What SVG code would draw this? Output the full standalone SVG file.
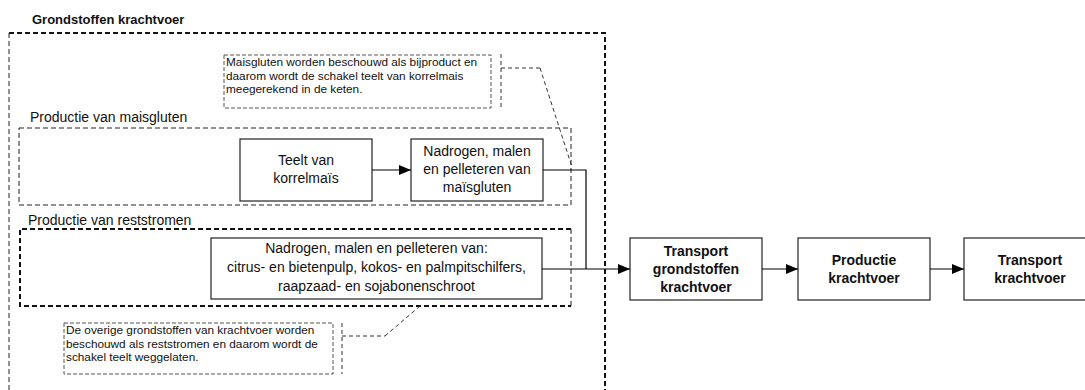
<svg xmlns="http://www.w3.org/2000/svg" width="1085" height="390" viewBox="0 0 1085 390">
<defs>
<marker id="arr" markerUnits="userSpaceOnUse" markerWidth="12" markerHeight="12" viewBox="0 0 12 12" refX="12" refY="6" orient="auto">
<path d="M0,1 L12,6 L0,11 Z" fill="#000"/>
</marker>
<style>
.node{fill:#fff;stroke:#222;stroke-width:1.2}
.t{font-family:"Liberation Sans",Arial,sans-serif;font-size:14px;fill:#111;text-anchor:middle}
.b{font-weight:bold}
.lbl{font-family:"Liberation Sans",Arial,sans-serif;font-size:14px;fill:#111}
.title{font-family:"Liberation Sans",Arial,sans-serif;font-size:13px;font-weight:bold;fill:#111}
.note{font-family:"Liberation Sans",Arial,sans-serif;font-size:11.8px;fill:#111}
.notebox{fill:none;stroke:#555;stroke-width:1;stroke-dasharray:4 2}
.thick{fill:none;stroke:#111;stroke-width:2;stroke-dasharray:5 3}
.thin{fill:none;stroke:#222;stroke-width:1;stroke-dasharray:5 3}
.call{fill:none;stroke:#333;stroke-width:1;stroke-dasharray:4 3}
.conn{fill:none;stroke:#000;stroke-width:1.2}
</style>
</defs>

<g id="container-grondstoffen">
<text class="title" x="32" y="24">Grondstoffen krachtvoer</text>
<path class="thick" d="M9,33 H605 V395"/>
<path class="thin" d="M9,33 V395"/>
</g>

<g id="container-maisgluten">
<text class="lbl" x="30" y="122">Productie van maisgluten</text>
<rect class="thin" x="19" y="128" width="552" height="77"/>
</g>

<g id="container-reststromen">
<text class="lbl" x="28" y="225">Productie van reststromen</text>
<path class="thick" d="M571,229 H20 V306 H571"/>
<path class="thin" d="M571,229 V306"/>
</g>

<g id="note-maisgluten">
<rect class="notebox" x="224" y="55" width="267" height="53"/>
<text class="note" x="226" y="66">Maisgluten worden beschouwd als bijproduct en</text>
<text class="note" x="226" y="79.5">daarom wordt de schakel teelt van korrelmais</text>
<text class="note" x="226" y="93">meegerekend in de keten.</text>
<path class="call" d="M501,54 V108 M501,68 H540"/>
<path class="call" stroke-dasharray="3 2" d="M540,68 L572,167"/>
</g>

<g id="note-reststromen">
<rect class="notebox" x="64" y="323" width="269" height="51"/>
<text class="note" x="66" y="334">De overige grondstoffen van krachtvoer worden</text>
<text class="note" x="66" y="347.5">beschouwd als reststromen en daarom wordt de</text>
<text class="note" x="66" y="361">schakel teelt weggelaten.</text>
<path class="call" d="M342,323 V374 M342,336 H385"/>
<path class="call" stroke-dasharray="3 2" d="M385,336 L420,306"/>
</g>

<g id="node-teelt">
<rect class="node" x="240" y="139" width="132" height="62"/>
<text class="t" x="306" y="165">Teelt van</text>
<text class="t" x="306" y="183">korrelmaïs</text>
</g>

<g id="node-nadrogen-mais">
<rect class="node" x="411" y="139" width="132" height="62"/>
<text class="t" x="477" y="156">Nadrogen, malen</text>
<text class="t" x="477" y="174">en pelleteren van</text>
<text class="t" x="477" y="192">maïsgluten</text>
</g>

<g id="node-nadrogen-rest">
<rect class="node" x="211" y="238" width="331" height="61"/>
<text class="t" x="376.5" y="253">Nadrogen, malen en pelleteren van:</text>
<text class="t" x="376.5" y="272">citrus- en bietenpulp, kokos- en palmpitschilfers,</text>
<text class="t" x="376.5" y="291">raapzaad- en sojabonenschroot</text>
</g>

<g id="node-transport-grondstoffen">
<rect class="node" x="630" y="238" width="132" height="62"/>
<text class="t b" x="696" y="256">Transport</text>
<text class="t b" x="696" y="274">grondstoffen</text>
<text class="t b" x="696" y="292">krachtvoer</text>
</g>

<g id="node-productie">
<rect class="node" x="798" y="238" width="132" height="62"/>
<text class="t b" x="864" y="265">Productie</text>
<text class="t b" x="864" y="283">krachtvoer</text>
</g>

<g id="node-transport-krachtvoer">
<rect class="node" x="964" y="238" width="132" height="62"/>
<text class="t b" x="1030" y="265">Transport</text>
<text class="t b" x="1030" y="283">krachtvoer</text>
</g>

<g id="connectors">
<path class="conn" d="M372,170 H411" marker-end="url(#arr)"/>
<path class="conn" d="M543,170 H586 V269"/>
<path class="conn" d="M542,269 H630" marker-end="url(#arr)"/>
<path class="conn" d="M762,269 H798" marker-end="url(#arr)"/>
<path class="conn" d="M930,269 H964" marker-end="url(#arr)"/>
</g>
</svg>
